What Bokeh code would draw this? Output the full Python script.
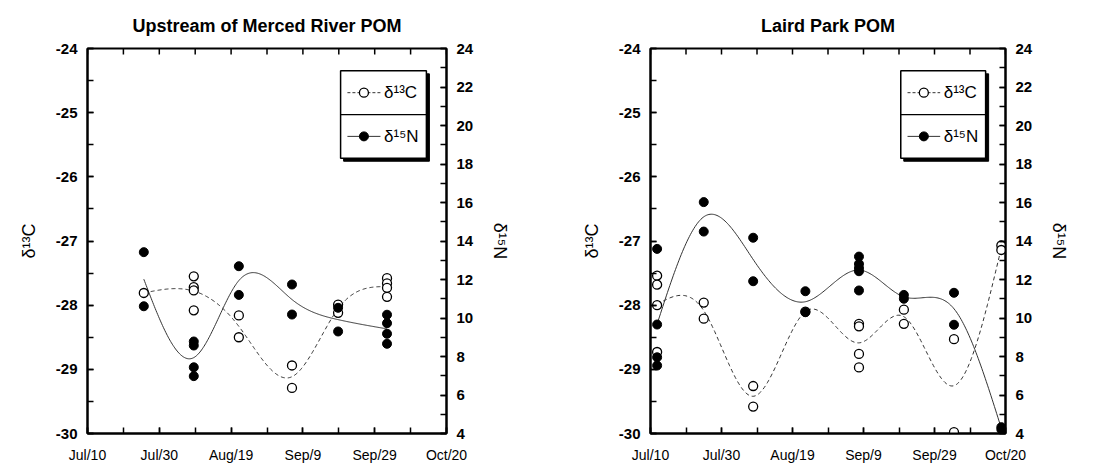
import numpy as np
from bokeh.plotting import figure
from bokeh.models import Range1d, LinearAxis, FixedTicker
from bokeh.layouts import row
from bokeh.core.properties import value
from bokeh.embed import file_html
from bokeh.resources import INLINE

# ---------------- axes ----------------
x_lo, x_hi = 0.0, 102.0          # days since Jul 10
x_tick_labels = ["Jul/10", "Jul/30", "Aug/19", "Sep/9", "Sep/29", "Oct/20"]
c13_lo, c13_hi = -30, -24
n15_lo, n15_hi = 4, 24

titles = ["Upstream of Merced River POM", "Laird Park POM"]
c13_label = "δ¹³C"
n15_label = "δ¹⁵N"

# ---------------- data: Upstream of Merced River ----------------
up_days = [16.0, 30.2, 43.0, 58.1, 71.2, 85.1]
up_c13 = [[-27.81],
          [-27.55, -27.72, -27.77, -28.08],
          [-28.16, -28.50],
          [-28.94, -29.29],
          [-27.99, -28.12],
          [-27.58, -27.66, -27.73, -27.87]]
up_n15 = [[13.42, 10.61],
          [8.78, 8.57, 7.44, 6.98],
          [12.69, 11.20],
          [11.74, 10.18],
          [10.53, 9.30],
          [10.17, 9.73, 9.18, 8.66]]

# ---------------- data: Laird Park ----------------
lp_days = [1.9, 15.3, 29.5, 44.5, 59.9, 72.8, 87.2, 100.8]
lp_c13 = [[-27.54, -27.68, -28.00, -28.73],
          [-27.96, -28.21],
          [-29.26, -29.58],
          [-28.10],
          [-28.29, -28.33, -28.76, -28.97],
          [-28.07, -28.29],
          [-28.53, -29.98],
          [-27.07, -27.14]]
lp_n15 = [[13.59, 9.66, 7.96, 7.53],
          [16.02, 14.49],
          [14.17, 11.91],
          [11.39, 10.30],
          [13.19, 12.81, 12.60, 12.43, 11.43],
          [11.20, 11.00],
          [11.31, 9.65],
          [4.33, 4.21]]


def natural_spline(xs, ys, n=300):
    xs = np.asarray(xs, float)
    ys = np.asarray(ys, float)
    k = len(xs)
    h = np.diff(xs)
    A = np.zeros((k, k))
    b = np.zeros(k)
    A[0, 0] = A[-1, -1] = 1.0
    for i in range(1, k - 1):
        A[i, i - 1] = h[i - 1]
        A[i, i] = 2 * (h[i - 1] + h[i])
        A[i, i + 1] = h[i]
        b[i] = 6 * ((ys[i + 1] - ys[i]) / h[i] - (ys[i] - ys[i - 1]) / h[i - 1])
    M = np.linalg.solve(A, b)
    xx = np.linspace(xs[0], xs[-1], n)
    j = np.clip(np.searchsorted(xs, xx) - 1, 0, k - 2)
    t0 = xs[j + 1] - xx
    t1 = xx - xs[j]
    hj = h[j]
    yy = (M[j] * t0 ** 3 + M[j + 1] * t1 ** 3) / (6 * hj) \
        + (ys[j] / hj - M[j] * hj / 6) * t0 + (ys[j + 1] / hj - M[j + 1] * hj / 6) * t1
    return xx, yy


FONT = "Liberation Sans"
FRAME_H = 385
TICK = 6


def style_axis(ax, ticker):
    ax.ticker = ticker
    ax.axis_line_width = 2
    ax.axis_line_color = "black"
    ax.major_tick_in = TICK
    ax.major_tick_out = 0
    ax.minor_tick_in = TICK
    ax.minor_tick_out = 0
    ax.major_tick_line_width = 1.5
    ax.minor_tick_line_width = 1.5
    ax.major_tick_line_color = "black"
    ax.minor_tick_line_color = "black"
    ax.major_label_text_font = FONT
    ax.major_label_text_color = "black"
    ax.axis_label_text_font = FONT
    ax.axis_label_text_font_style = "normal"
    ax.axis_label_text_font_size = "18px"
    ax.axis_label_text_color = "black"


def make_panel(title, days, c13, n15, border_left, frame_w, border_right):
    p = figure(frame_width=frame_w, frame_height=FRAME_H,
               min_border_left=border_left, min_border_right=border_right,
               min_border_top=48, min_border_bottom=30,
               x_range=Range1d(x_lo, x_hi), y_range=Range1d(c13_lo, c13_hi),
               output_backend="svg", toolbar_location=None, title=title)
    p.extra_y_ranges = {"n15": Range1d(n15_lo, n15_hi)}
    p.grid.visible = False
    p.outline_line_color = "black"
    p.outline_line_width = 2
    p.background_fill_color = "white"
    p.border_fill_color = "white"

    p.title.align = "center"
    p.title.text_font = FONT
    p.title.text_font_size = "18px"
    p.title.text_font_style = "bold"
    p.title.text_color = "black"
    p.title.standoff = 25

    # x ticks
    step = (x_hi - x_lo) / 10
    x_major = [x_lo + 2 * i * step for i in range(6)]
    x_minor = [x_lo + i * step for i in range(11)]
    xax = p.xaxis[0]
    style_axis(xax, FixedTicker(ticks=x_major, minor_ticks=x_minor))
    xax.major_label_overrides = {t: lab for t, lab in zip(x_major, x_tick_labels)}
    xax.major_label_text_font_size = "14px"
    xax.major_label_standoff = 13

    # tick marks along the top edge of the frame
    tick_dy = TICK * (c13_hi - c13_lo) / FRAME_H
    p.segment(x0=x_minor, x1=x_minor, y0=[c13_hi] * len(x_minor),
              y1=[c13_hi - tick_dy] * len(x_minor), line_color="black", line_width=1.5)

    # left axis
    c13_ticks = list(range(c13_lo, c13_hi + 1))
    yax = p.yaxis[0]
    style_axis(yax, FixedTicker(ticks=c13_ticks,
                                minor_ticks=[c13_lo + 0.5 * i for i in range(13)]))
    yax.major_label_overrides = {t: str(t) for t in c13_ticks}
    yax.major_label_text_font_size = "15px"
    yax.major_label_text_font_style = "bold"
    yax.major_label_standoff = 10
    yax.axis_label = c13_label
    yax.axis_label_standoff = 14

    # right axis
    rax = LinearAxis(y_range_name="n15")
    p.add_layout(rax, "right")
    style_axis(rax, FixedTicker(ticks=list(range(n15_lo, n15_hi + 1, 2)),
                                minor_ticks=list(range(n15_lo, n15_hi + 1))))
    rax.major_label_text_font_size = "15px"
    rax.major_label_text_font_style = "bold"
    rax.major_label_standoff = 10
    rax.axis_label = n15_label
    rax.axis_label_standoff = 14

    # data
    xc = [d for d, vals in zip(days, c13) for _ in vals]
    yc = [v for vals in c13 for v in vals]
    xn = [d for d, vals in zip(days, n15) for _ in vals]
    yn = [v for vals in n15 for v in vals]
    mc = [float(np.mean(v)) for v in c13]
    mn = [float(np.mean(v)) for v in n15]

    sx, sy = natural_spline(days, mc)
    p.line(sx, sy, line_color="#333333", line_width=1, line_dash="4 3")
    sx, sy = natural_spline(days, mn)
    p.line(sx, sy, line_color="#333333", line_width=1, y_range_name="n15")

    p.scatter(xc, yc, size=9, marker="circle", fill_color="white",
              line_color="black", line_width=1.3)
    p.scatter(xn, yn, size=9, marker="circle", fill_color="black",
              line_color="black", line_width=1, y_range_name="n15")

    # legend box (placed by frame fractions)
    X = lambda f: x_lo + f * (x_hi - x_lo)
    Y = lambda f: c13_hi - f * (c13_hi - c13_lo)
    dx = 3 * (x_hi - x_lo) / frame_w
    dy = 3 * (c13_hi - c13_lo) / FRAME_H
    bx0, bx1, by0, by1 = X(0.705), X(0.944), Y(0.058), Y(0.285)
    p.quad(left=[bx0 + dx], right=[bx1 + dx], top=[by0 - dy], bottom=[by1 - dy],
           fill_color="black", line_color="black")
    p.quad(left=[bx0], right=[bx1], top=[by0], bottom=[by1],
           fill_color="white", line_color="black", line_width=1.5)
    ymid = (by0 + by1) / 2
    p.segment(x0=[bx0], x1=[bx1], y0=[ymid], y1=[ymid], line_color="black", line_width=1.2)
    yi1, yi2 = (by0 + ymid) / 2, (ymid + by1) / 2
    lx0, lx1, lxm, tx = X(0.724), X(0.816), X(0.770), X(0.826)
    p.segment(x0=[lx0], x1=[lx1], y0=[yi1], y1=[yi1], line_color="#333333",
              line_width=1, line_dash="3 2")
    p.segment(x0=[lx0], x1=[lx1], y0=[yi2], y1=[yi2], line_color="#333333", line_width=1)
    p.scatter([lxm], [yi1], size=9, fill_color="white", line_color="black", line_width=1.3)
    p.scatter([lxm], [yi2], size=9, fill_color="black", line_color="black")
    p.text(x=[tx, tx], y=[yi1, yi2], text=[c13_label, n15_label],
           text_font=value(FONT), text_font_size="17px", text_baseline="middle",
           text_align="left", text_color="black")
    return p


p1 = make_panel(titles[0], up_days, up_c13, up_n15, 87, 359, 111)
p2 = make_panel(titles[1], lp_days, lp_c13, lp_n15, 93, 355, 104)
layout = row(p1, p2)

open("out.html", "w").write(file_html(layout, INLINE))
